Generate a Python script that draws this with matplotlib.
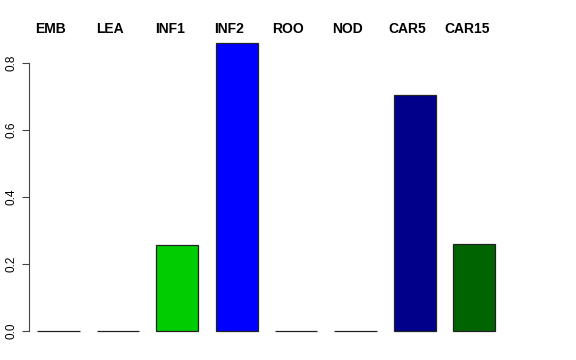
import matplotlib
matplotlib.use("Agg")
import matplotlib.pyplot as plt

plt.rcParams["font.family"] = ["Liberation Sans", "DejaVu Sans"]

# 组织名称与对应数值
tissues = ["EMB", "LEA", "INF1", "INF2", "ROO", "NOD", "CAR5", "CAR15"]
values = [0.0, 0.0, 0.258, 0.86, 0.0, 0.0, 0.704, 0.261]
colors = ["white", "white", "#00CD00", "#0000FF", "white", "white", "#00008B", "#006400"]
yticks = [0.0, 0.2, 0.4, 0.6, 0.8]

fig = plt.figure(figsize=(5.76, 3.6), dpi=100)
ax = fig.add_axes([29 / 576, 29 / 360, 481 / 576, 288 / 360])

x = list(range(len(tissues)))
bars = ax.bar(x, values, width=0.71, color=colors, edgecolor="#222222", linewidth=0.9)
for b in bars:
    b.set_clip_on(False)
ax.set_xlim(-0.497, 7.6)
ax.set_ylim(0, 0.86)

# 只保留左侧坐标轴, R 风格
for side in ["top", "right", "bottom"]:
    ax.spines[side].set_visible(False)
ax.spines["left"].set_bounds(0, 0.8)
ax.spines["left"].set_color("#444444")
ax.set_xticks([])
ax.set_yticks(yticks)
ax.set_yticklabels([f"{t:.1f}" for t in yticks], rotation=90, va="center", fontsize=8.5)
ax.tick_params(axis="y", length=5, color="#444444", pad=3)

# 组织名称写在上方
for xi, name in zip(x, tissues):
    ax.text(xi - 0.13, 1.05, name, transform=ax.get_xaxis_transform(),
            ha="center", va="center", fontsize=10, fontweight="bold")

fig.savefig("out.png", dpi=100)
